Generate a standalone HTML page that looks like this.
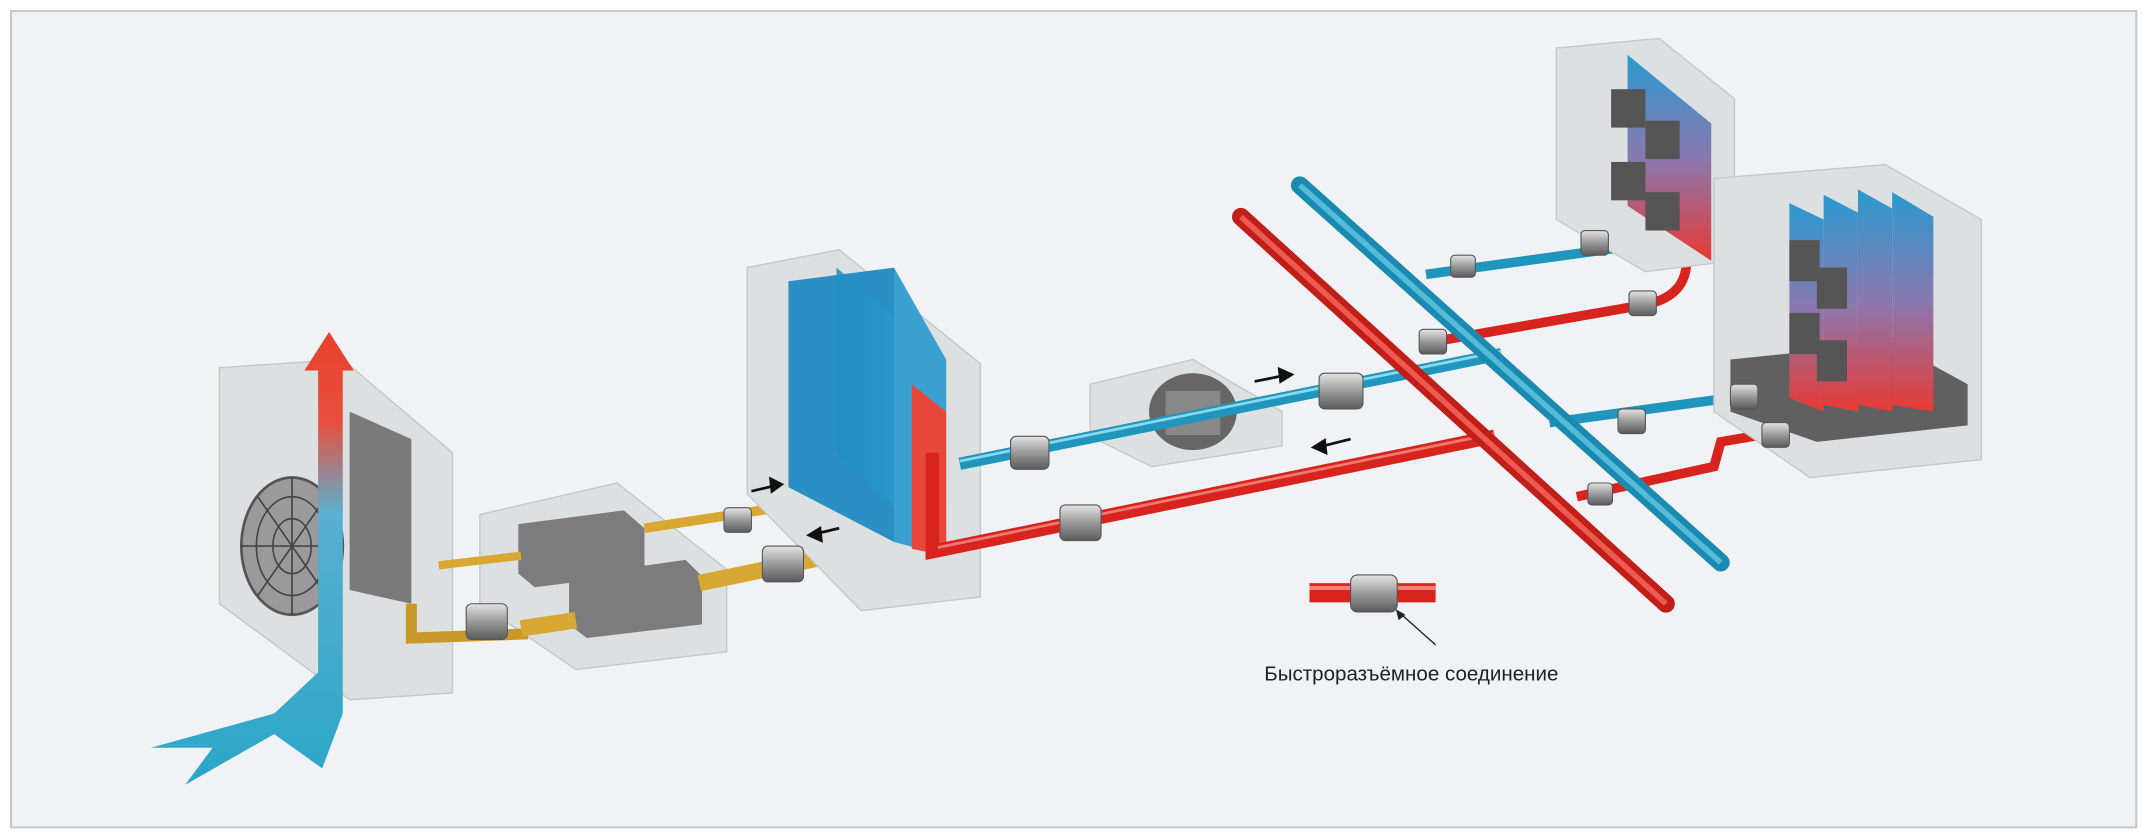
<!DOCTYPE html>
<html><head><meta charset="utf-8"><style>
html,body{margin:0;padding:0;background:#fff;}
svg{display:block;}
text{font-family:"Liberation Sans",sans-serif;}
</style></head><body>
<svg width="2150" height="837" viewBox="0 0 1568 610" preserveAspectRatio="none" xmlns="http://www.w3.org/2000/svg">
<defs>
<linearGradient id="plate" x1="0" y1="0" x2="1" y2="0"><stop offset="0" stop-color="#1f8fc0"/><stop offset="0.7" stop-color="#2b9ccc"/><stop offset="1" stop-color="#e83a34"/></linearGradient>
<linearGradient id="plateV" x1="0" y1="0" x2="0" y2="1"><stop offset="0" stop-color="#2a9ad0"/><stop offset="0.5" stop-color="#8a78b0"/><stop offset="1" stop-color="#e83a34"/></linearGradient>
<linearGradient id="air" x1="0" y1="1" x2="0" y2="0"><stop offset="0" stop-color="#2aa6c8"/><stop offset="0.6" stop-color="#5ab0d0"/><stop offset="0.8" stop-color="#e85040"/><stop offset="1" stop-color="#e8402a"/></linearGradient>
<linearGradient id="conn" x1="0" y1="0" x2="0" y2="1"><stop offset="0" stop-color="#e4e4e4"/><stop offset="0.5" stop-color="#9a9a9a"/><stop offset="1" stop-color="#5a5a5a"/></linearGradient>
</defs>
<rect width="1568" height="610" fill="#fff"/>
<rect x="8" y="8" width="1550" height="595" fill="#f1f2f6" stroke="#c8c8c8" stroke-width="1.5"/>

<!-- left fan box -->
<polygon points="160,268 250,262 330,330 330,505 255,510 160,440" fill="#dde0e0" stroke="#c4c8c8"/>
<polygon points="255,300 300,320 300,440 255,430" fill="#7a7a7a"/>
<ellipse cx="213" cy="398" rx="37" ry="50" fill="#9a9a9a" stroke="#555" stroke-width="2"/>
<g stroke="#444" stroke-width="1.2" fill="none"><ellipse cx="213" cy="398" rx="26" ry="36"/><ellipse cx="213" cy="398" rx="14" ry="20"/><line x1="176" y1="398" x2="250" y2="398"/><line x1="213" y1="348" x2="213" y2="448"/><line x1="188" y1="362" x2="238" y2="434"/><line x1="188" y1="434" x2="238" y2="362"/></g>
<path d="M110,545 L200,520 L232,490 L232,270 L222,270 L240,242 L258,270 L250,270 L250,520 L235,560 L200,535 L135,572 L155,545 Z" fill="url(#air)"/>

<!-- middle cooler box -->
<polygon points="350,375 450,352 530,415 530,475 420,488 350,440" fill="#dde0e0" stroke="#c4c8c8"/>
<polygon points="378,382 455,372 470,385 470,418 390,428 378,418" fill="#7c7c7c"/>
<polygon points="415,420 500,408 512,420 512,455 428,465 415,455" fill="#7c7c7c"/>

<!-- gold pipes -->
<path d="M300,440 L300,465 L385,462" stroke="#c9982a" stroke-width="8" fill="none"/>
<path d="M320,412 L380,405" stroke="#d9a832" stroke-width="6" fill="none"/>
<path d="M470,385 L600,365" stroke="#d9a832" stroke-width="7" fill="none"/>
<path d="M380,458 L420,452 M510,425 L630,400 L650,400 L650,420" stroke="#d9a832" stroke-width="12" fill="none"/>

<!-- heat exchanger -->
<polygon points="545,195 612,182 715,265 715,435 628,445 545,360" fill="#dde0e0" stroke="#c4c8c8"/>
<polygon points="575,205 652,195 652,395 575,355" fill="#2a8fc4"/>
<polygon points="610,195 690,262 690,405 610,330" fill="url(#plate)" opacity="0.85"/>
<polygon points="652,195 690,262 690,405 652,395" fill="#3aa0d0"/>
<polygon points="665,280 690,300 690,405 665,400" fill="#e8483c"/>

<!-- pump -->
<polygon points="795,280 870,262 935,300 935,325 840,340 795,318" fill="#dde0e0" stroke="#c4c8c8"/>
<ellipse cx="870" cy="300" rx="32" ry="28" fill="#666"/>
<rect x="850" y="285" width="40" height="32" fill="#888"/>

<!-- pipes -->
<g fill="none" stroke-linecap="butt">
<path d="M700,338 L1095,258" stroke="#2196bc" stroke-width="9"/>
<path d="M700,336 L1095,256" stroke="#8ad8ee" stroke-width="2"/>
<path d="M1040,200 L1200,178" stroke="#2196bc" stroke-width="7"/>
<path d="M1130,308 L1262,290" stroke="#2196bc" stroke-width="7"/>
<path d="M680,330 L680,402 L1090,318" stroke="#d8241e" stroke-width="10"/>
<path d="M684,399 L1090,316" stroke="#f07a70" stroke-width="2"/>
<path d="M1040,250 L1200,222 Q1230,216 1230,190" stroke="#d8241e" stroke-width="7"/>
<path d="M1150,362 L1250,340 L1255,322 L1290,316" stroke="#d8241e" stroke-width="7"/>
</g>
<path d="M905,158 L1215,440" stroke="#c01e18" stroke-width="13" stroke-linecap="round"/>
<path d="M905,158 L1215,440" stroke="#ee5a50" stroke-width="4"/>
<path d="M948,135 L1255,410" stroke="#1a8ab0" stroke-width="13" stroke-linecap="round"/>
<path d="M948,135 L1255,410" stroke="#54bcd8" stroke-width="4"/>

<!-- upper right box -->
<polygon points="1135,35 1210,28 1265,72 1265,190 1200,198 1135,160" fill="#dde0e0" stroke="#c4c8c8"/>
<polygon points="1187,40 1248,90 1248,190 1187,150" fill="url(#plateV)"/>
<g fill="#555"><rect x="1175" y="65" width="25" height="28"/><rect x="1200" y="88" width="25" height="28"/><rect x="1175" y="118" width="25" height="28"/><rect x="1200" y="140" width="25" height="28"/></g>
<!-- lower right box -->
<polygon points="1250,130 1375,120 1445,160 1445,335 1320,348 1250,300" fill="#dde0e0" stroke="#c4c8c8"/>
<polygon points="1262,262 1380,250 1435,280 1435,310 1325,322 1262,300" fill="#606060"/>
<g fill="url(#plateV)"><polygon points="1305,148 1330,160 1330,300 1305,290"/><polygon points="1330,142 1355,155 1355,300 1330,295"/><polygon points="1355,138 1380,152 1380,300 1355,295"/><polygon points="1380,140 1410,158 1410,300 1380,295"/></g>
<g fill="#555"><rect x="1305" y="175" width="22" height="30"/><rect x="1325" y="195" width="22" height="30"/><rect x="1305" y="228" width="22" height="30"/><rect x="1325" y="248" width="22" height="30"/></g>

<!-- connectors -->
<g fill="url(#conn)" stroke="#555" stroke-width="0.8">
<rect x="340" y="440" width="30" height="26" rx="4"/>
<rect x="528" y="370" width="20" height="18" rx="3"/>
<rect x="556" y="398" width="30" height="26" rx="4"/>
<rect x="737" y="318" width="28" height="24" rx="4"/>
<rect x="962" y="272" width="32" height="26" rx="4"/>
<rect x="773" y="368" width="30" height="26" rx="4"/>
<rect x="1035" y="240" width="20" height="18" rx="3"/>
<rect x="1058" y="186" width="18" height="16" rx="3"/>
<rect x="1153" y="168" width="20" height="18" rx="3"/>
<rect x="1188" y="212" width="20" height="18" rx="3"/>
<rect x="1158" y="352" width="18" height="16" rx="3"/>
<rect x="1180" y="298" width="20" height="18" rx="3"/>
<rect x="1262" y="280" width="20" height="18" rx="3"/>
<rect x="1285" y="308" width="20" height="18" rx="3"/>
</g>

<g stroke="#111" stroke-width="2" fill="#111">
<line x1="548" y1="358" x2="565" y2="354"/><polygon points="570,353 562,349 563,358"/>
<line x1="612" y1="385" x2="595" y2="389"/><polygon points="590,390 598,385 599,394"/>
<line x1="915" y1="278" x2="935" y2="274"/><polygon points="942,273 933,269 934,278"/>
<line x1="985" y1="320" x2="965" y2="325"/><polygon points="958,326 966,321 967,330"/>
</g>

<!-- legend -->
<rect x="955" y="425" width="92" height="14" fill="#d8241e"/>
<rect x="955" y="427" width="92" height="3" fill="#f08078"/>
<rect x="985" y="419" width="34" height="27" rx="5" fill="url(#conn)" stroke="#555" stroke-width="0.8"/>
<line x1="1047" y1="470" x2="1020" y2="446" stroke="#222" stroke-width="1"/>
<polygon points="1018,444 1020,452 1025,448" fill="#222"/>
<text x="922" y="496" font-size="15" fill="#222">Быстроразъёмное соединение</text>
</svg>
</body></html>
